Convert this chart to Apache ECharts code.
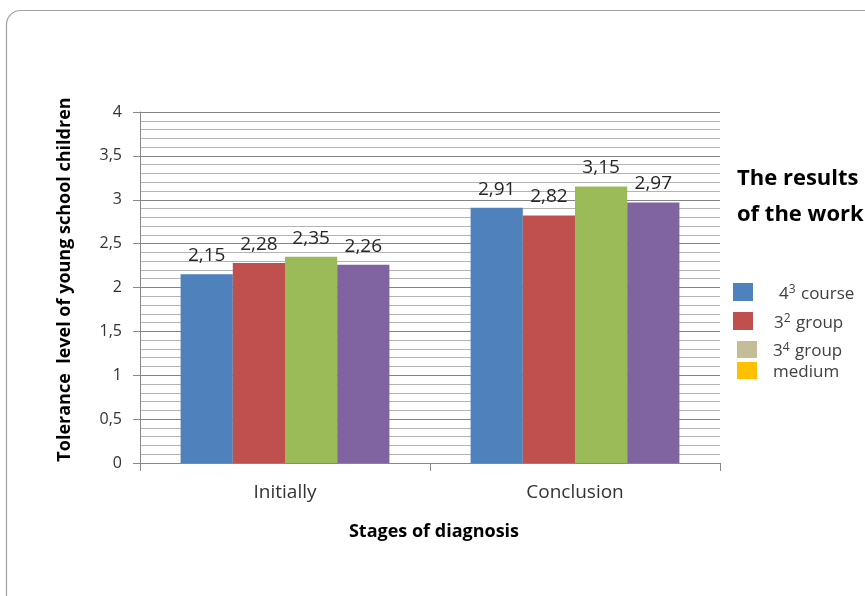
<!DOCTYPE html>
<html>
<head>
<meta charset="utf-8">
<script src="https://cdn.jsdelivr.net/npm/echarts@6/dist/echarts.min.js"></script>
<style>
  html, body { margin: 0; padding: 0; background: #fff; }
  #chart { width: 865px; height: 596px; }
</style>
</head>
<body>
<div id="chart"></div>
<script>
// Diagnosis stages and the tolerance level measured at each
const categories = ['Initially', 'Conclusion'];
const seriesNames = ['4³ course', '3² group', '3⁴ group', 'medium'];
const course43 = [2.15, 2.91];
const group32 = [2.28, 2.82];
const group34 = [2.35, 3.15];
const medium = [2.26, 2.97];
const yTicks = [0, 0.5, 1, 1.5, 2, 2.5, 3, 3.5, 4];

// Legend captions with raised exponents
const legendRich = {
  '4³ course': '4{sup|3} course',
  '3² group': '3{sup|2} group',
  '3⁴ group': '3{sup|4} group',
  'medium': 'medium'
};

const barColors = ['#4F81BD', '#C0504D', '#9BBB59', '#8064A2'];
const legendColors = ['#4F81BD', '#C0504D', '#C4BD97', '#FFC000'];
const FONT = '"Open Sans", "Noto Sans", sans-serif';

const comma = v => String(v).replace('.', ',');

const values = [course43, group32, group34, medium];
const series = values.map((data, i) => ({
  name: seriesNames[i],
  type: 'bar',
  data: data,
  barGap: '0%',
  barCategoryGap: '28%',
  itemStyle: { color: barColors[i] },
  label: {
    show: true,
    position: 'top',
    distance: 9,
    color: '#262626',
    fontSize: 19,
    fontFamily: FONT,
    formatter: p => comma(p.value)
  }
}));

// Legend entries placed one by one beside the plot
const legendBoxes = [
  { left: 733, top: 283, w: 20, h: 18, gap: 26 },
  { left: 733, top: 312, w: 20, h: 18, gap: 21 },
  { left: 737, top: 341, w: 20, h: 17, gap: 16 },
  { left: 737, top: 362, w: 20, h: 17, gap: 16 }
];
const legends = legendBoxes.map((b, i) => ({
  left: b.left,
  top: b.top,
  orient: 'vertical',
  padding: 0,
  itemWidth: b.w,
  itemHeight: b.h,
  itemGap: 0,
  itemStyle: { borderWidth: 0 },
  selectedMode: false,
  icon: 'rect',
  formatter: name => legendRich[name],
  textStyle: {
    fontFamily: FONT, fontSize: 17, color: '#404040',
    padding: [4, 0, 0, b.gap - 5],
    rich: {
      sup: { fontFamily: FONT, fontSize: 12, color: '#404040', verticalAlign: 'top', padding: [0, 1, 8, 0] }
    }
  },
  data: [{ name: seriesNames[i], itemStyle: { color: legendColors[i] } }]
}));

const chart = echarts.init(document.getElementById('chart'), null, { renderer: 'canvas' });
chart.setOption({
  animation: false,
  backgroundColor: '#fff',
  title: {
    text: 'The results\nof the work',
    left: 737,
    top: 161,
    padding: 0,
    textStyle: { fontFamily: FONT, fontSize: 22, fontWeight: 'bold', color: '#000', lineHeight: 36 }
  },
  graphic: [{
    type: 'rect',
    shape: { x: 6.5, y: 10.5, width: 880, height: 620, r: 14 },
    style: { fill: 'none', stroke: '#a0a0a0', lineWidth: 1.2 },
    silent: true,
    z: -1
  }],
  legend: legends,
  grid: { left: 140, right: 145, top: 112, bottom: 133, containLabel: false },
  xAxis: {
    type: 'category',
    data: categories,
    name: 'Stages of diagnosis',
    nameLocation: 'middle',
    nameGap: 60,
    nameTextStyle: { fontFamily: FONT, fontSize: 18, fontWeight: 'bold', color: '#000', padding: [0, 0, 0, 8] },
    axisLine: { lineStyle: { color: '#888', width: 1 } },
    axisTick: { show: true, length: 8, lineStyle: { color: '#888' } },
    axisLabel: { margin: 20, fontFamily: FONT, fontSize: 19, color: '#333' }
  },
  yAxis: {
    type: 'value',
    min: yTicks[0],
    max: yTicks[yTicks.length - 1],
    interval: 0.5,
    name: 'Tolerance  level of young school children',
    nameLocation: 'middle',
    nameGap: 66,
    nameTextStyle: { fontFamily: FONT, fontSize: 18, fontWeight: 'bold', color: '#000', padding: [0, 0, 0, 16] },
    axisLine: { show: true, lineStyle: { color: '#888', width: 1 } },
    axisTick: { show: true, length: 7, lineStyle: { color: '#888' } },
    axisLabel: { margin: 18, fontFamily: FONT, fontSize: 16, color: '#333', formatter: v => comma(v) },
    splitLine: { show: true, lineStyle: { color: '#858585', width: 1 } },
    minorTick: { show: false, splitNumber: 5 },
    minorSplitLine: { show: true, lineStyle: { color: '#b4b4b4', width: 1 } }
  },
  series: series
});
</script>
</body>
</html>
